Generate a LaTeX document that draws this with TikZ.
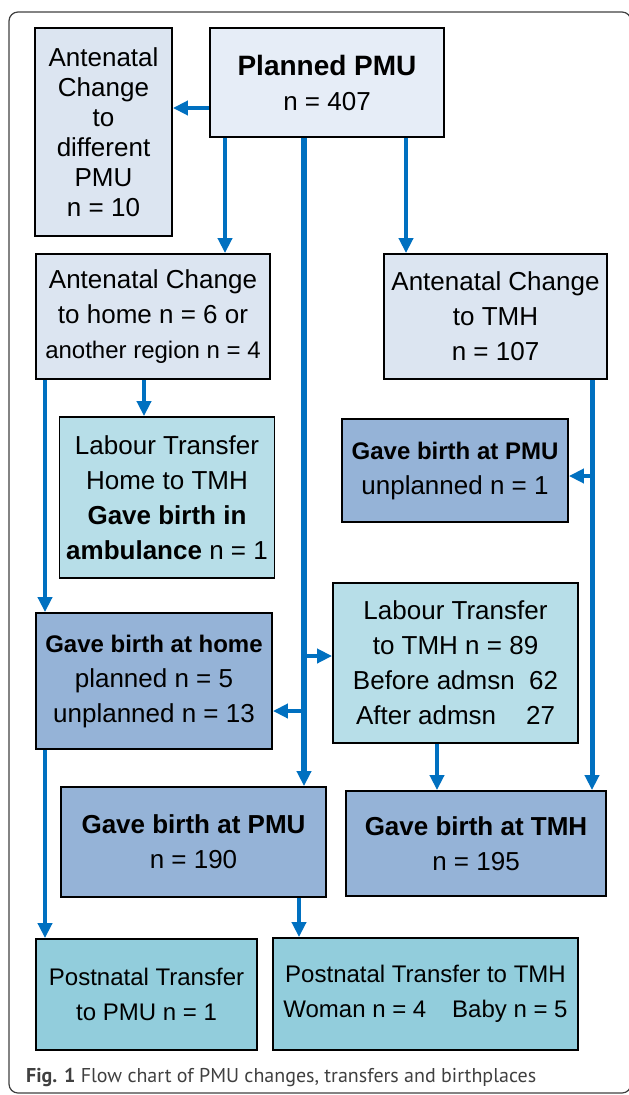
\documentclass[tikz,border=0pt]{standalone}
\usepackage{fontspec}
\setmainfont{Liberation Sans}
\newfontfamily\capfont{PT Sans}
\usetikzlibrary{arrows.meta}

\definecolor{arrowblue}{HTML}{0070C0}
\definecolor{plannedfill}{HTML}{E6EDF7}
\definecolor{antefill}{HTML}{DCE5F1}
\definecolor{birthfill}{HTML}{95B3D7}
\definecolor{labourfill}{HTML}{B7DEE8}
\definecolor{postfill}{HTML}{92CDDC}
\newcommand{\setfs}[2]{\fontsize{#1}{#2}\selectfont}

\begin{document}
\begin{tikzpicture}[x=1pt, y=-1pt,
  box/.style={draw=black, line width=1.8pt, inner sep=0pt, align=center, font=\setfs{26}{35}},
  arr/.style={draw=arrowblue, line width=4pt, -{Triangle[length=15pt,width=14pt]}},
  thickarr/.style={arr, line width=5.5pt}]

\useasboundingbox (0,0) rectangle (629,1095);
\draw [rounded corners=9pt, line width=1.2pt, draw=black!75] (9,12) rectangle (631,1093);

% -------- Boxes -----------
\node (planned) [box, fill=plannedfill, minimum width=234, minimum height=109]  at  (327, 82.5)
  {{\setfs{28}{35}\bfseries Planned PMU}\\n = 407};
\node (diffpmu) [box, fill=antefill, minimum width=137, minimum height=208, font=\setfs{26}{30}]  at  (103.5, 132)
  {Antenatal\\Change\\to\\different\\PMU\\n = 10};
\node (tohome) [box, fill=antefill, minimum width=234, minimum height=125]  at  (153, 316.5)
  {Antenatal Change\\to home n = 6 or\\{\setfs{24}{35}another region n = 4}};
\node (totmh) [box, fill=antefill, minimum width=223, minimum height=125]  at  (495.5, 316.5)
  {Antenatal Change\\to TMH\\n = 107};

% Second row
\node (ambul) [box, fill=labourfill, minimum width=215, minimum height=161]  at  (167, 497.5)
  {Labour Transfer\\Home to TMH\\\textbf{Gave birth in}\\\textbf{ambulance} n = 1};
\node (gbpmuone) [box, fill=birthfill, minimum width=226, minimum height=103]  at  (455, 470.5)
  {{\setfs{24}{35}\bfseries Gave birth at PMU}\\unplanned n = 1};
\node (gbhome) [box, fill=birthfill, minimum width=236, minimum height=136]  at  (154, 681)
  {{\setfs{24}{35}\bfseries Gave birth at home}\\planned n = 5\\unplanned n = 13};
\node (labtmh) [box, fill=labourfill, minimum width=245, minimum height=160]  at  (455.5, 663)
  {Labour Transfer\\to TMH n = 89\\Before admsn\hspace{0.55em}62\\After admsn\hspace{1.15em}27};

% Births
\node (gbpmu) [box, fill=birthfill, minimum width=265, minimum height=110]  at  (193.5, 842)
  {\textbf{Gave birth at PMU}\\n = 190};
\node (gbtmh) [box, fill=birthfill, minimum width=260, minimum height=105]  at  (476, 843.5)
  {\textbf{Gave birth at TMH}\\n = 195};

% Postnatal
\node (postpmu) [box, fill=postfill, minimum width=221, minimum height=111, font=\setfs{24}{35}]  at  (146.5, 994.5)
  {Postnatal Transfer\\to PMU n = 1};
\node (posttmh) [box, fill=postfill, minimum width=305, minimum height=112, font=\setfs{24}{35}]  at  (425.5, 994)
  {Postnatal Transfer to TMH\\Woman n = 4\hspace{0.8em} Baby n = 5};

\node (caption) [anchor=base west, inner sep=0pt, font=\capfont\setfs{20}{24}, text=black!75]  at  (26, 1082)
  {\textbf{Fig. 1} Flow chart of PMU changes, transfers and birthplaces};

% -------- Arrows -----------
\coordinate (trunkA) at (304, 656);
\coordinate (trunkB) at (304, 711);
\coordinate (rightA) at (592, 476);

\draw   [arr]   (planned.west |- 0,108) -- (diffpmu.east |- 0,108);
\draw   [arr]   (planned.south -| 225,0) -- (tohome.north -| 225,0);
\draw   [arr]   (planned.south -| 406,0) -- (totmh.north -| 406,0);
\draw   [thickarr]   (planned.south -| 304,0) -- (gbpmu.north -| 304,0);
\draw   [arr]   (trunkA) -- (labtmh.west |- trunkA);
\draw   [arr]   (trunkB) -- (gbhome.east |- trunkB);

\draw   [arr]   (tohome.south -| 45,0) -- (gbhome.north -| 45,0);
\draw   [arr]   (tohome.south -| 144,0) -- (ambul.north -| 144,0);
\draw   [arr]   (gbhome.south -| 45,0) -- (postpmu.north -| 45,0);

\draw   [thickarr, line width=5pt]   (totmh.south -| 592,0) -- (gbtmh.north -| 592,0);
\draw   [arr]   (rightA) -- (gbpmuone.east |- rightA);
\draw   [arr]   (labtmh.south -| 437,0) -- (gbtmh.north -| 437,0);
\draw   [arr]   (gbpmu.south -| 299,0) -- (posttmh.north -| 299,0);
\end{tikzpicture}
\end{document}
